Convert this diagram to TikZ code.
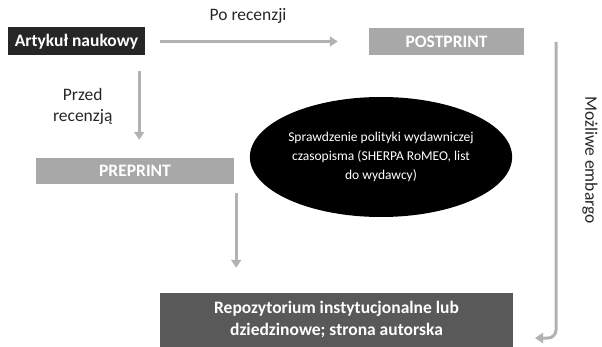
\documentclass[tikz,border=0pt]{standalone}
\usepackage{fontspec}
\setmainfont{Carlito}
\usetikzlibrary{arrows.meta,shapes.geometric}
\usetikzlibrary{positioning}
\definecolor{arrgray}{HTML}{B2B2B2}
\definecolor{boxgray}{HTML}{A8A8A8}
\definecolor{repogray}{HTML}{595959}
\definecolor{artblack}{HTML}{262626}
\tikzset{>={Triangle[length=8pt,width=10pt]}}

\begin{document}
\begin{tikzpicture}[x=1pt,y=-1pt,
	box/.style={inner sep=0pt,text=white,font=\fontsize{17.5}{22}\selectfont\bfseries,align=center},
	arr/.style={->,line width=3pt,draw=arrgray},
	lbl/.style={text=black!85,font=\fontsize{17.5}{21}\selectfont,align=center}]
	\useasboundingbox (0,0) rectangle (602,347);
	\node[box,fill=artblack,minimum width=137pt,minimum height=28pt] (artykul) at (76.5,41.5) {Artyku\l{} naukowy};
	\node[box,fill=boxgray,minimum width=155pt,minimum height=27pt] (postprint) at (446.5,41.5) {POSTPRINT};
	\node[box,fill=boxgray,minimum width=198pt,minimum height=26pt] (preprint) at (135,171) {PREPRINT};
	\node[box,fill=repogray,minimum width=353pt,minimum height=54pt] (repo) at (336.5,320) {Repozytorium instytucjonalne lub\\dziedzinowe; strona autorska};
	\node[ellipse,fill=black,inner sep=0pt,minimum width=262pt,minimum height=120pt,
		text=white,align=center,font=\fontsize{13.5}{19}\selectfont] (polityka) at (381,157)
		{Sprawdzenie polityki wydawniczej\\czasopisma (SHERPA RoMEO, list\\do wydawcy)};
	% strzalki
	\draw[arr,shorten <=15pt,shorten >=31pt] (artykul.east) -- (postprint.west)
		node[lbl,pos=0.46,above=13pt] (po) {Po recenzji};
	\draw[arr,shorten <=15pt,shorten >=18pt] ([xshift=-6pt]artykul.south east) -- ([xshift=-6pt]artykul.south east |- preprint.north)
		node[lbl,midway,left=22pt] (przed) {Przed\\recenzj\k{a}};
	\draw[arr,shorten <=9pt,shorten >=25pt] ([xshift=2pt]preprint.south east) -- ([xshift=2pt]preprint.south east |- repo.north);
	\coordinate (embtop) at (556,42);
	\coordinate (embend) at (535,338);
	\draw[arr,rounded corners=8pt] (embtop) |- (embend);
	\node[lbl,rotate=-90] (embargo) at (590,160) {Mo\.zliwe embargo};
\end{tikzpicture}
\end{document}
